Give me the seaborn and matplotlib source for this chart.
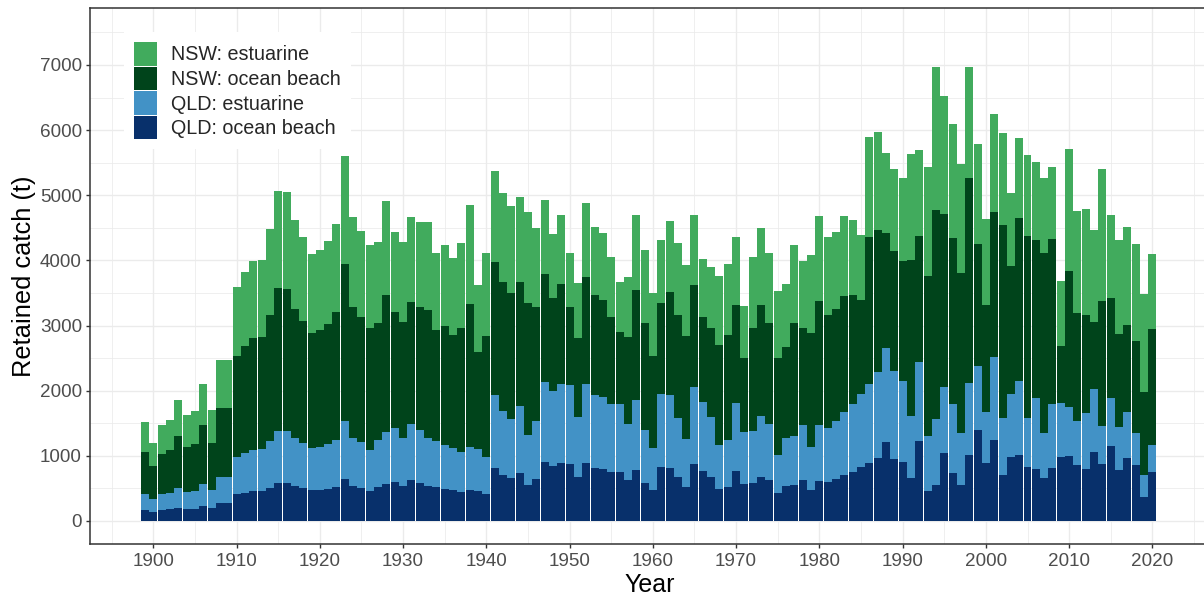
import numpy as np
import pandas as pd
import matplotlib
matplotlib.use("Agg")
import matplotlib.pyplot as plt
from matplotlib.ticker import MultipleLocator
import seaborn as sns

# ---- data: retained catch (t) by state and fishery sector, 1899-2020 ----
years = list(range(1899, 2021))

nsw_estuarine = [
    461, 347, 445, 461, 553, 492, 507, 629, 506, 737,
    737, 1060, 1136, 1182, 1182, 1320, 1490, 1489, 1367, 1290,
    1212, 1228, 1274, 1351, 1658, 1382, 1321, 1275, 1244, 1443,
    1228, 1228, 1305, 1305, 1351, 1182, 1244, 1182, 1305, 1520,
    1029, 1275, 1397, 1366, 1336, 1305, 1397, 1213, 1137, 983,
    1059, 829, 844, 1137, 1044, 1029, 922, 768, 921, 1151,
    1121, 968, 967, 1090, 1105, 1091, 1074, 891, 937, 1060,
    1090, 1045, 798, 1091, 1183, 1075, 1028, 967, 1198, 1029,
    1197, 1305, 1198, 1182, 1228, 1152, 998, 1535, 1505, 1228,
    1259, 1274, 1628, 1320, 1673, 2196, 1811, 1751, 1673, 1705,
    1535, 1321, 1505, 1412, 1121, 1229, 1244, 1197, 1151, 1105,
    998, 1873, 1566, 1627, 1413, 2027, 1274, 1444, 1505, 1494,
    1504, 1151,
]
nsw_ocean_beach = [
    644, 507, 614, 660, 798, 691, 721, 906, 722, 1059,
    1059, 1550, 1643, 1720, 1720, 1935, 2195, 2180, 1981, 1873,
    1766, 1797, 1843, 1965, 2411, 2012, 1919, 1873, 1796, 2103,
    1781, 1782, 1874, 1889, 1966, 1705, 1827, 1735, 1904, 2196,
    1490, 1857, 2042, 1981, 1935, 1904, 2027, 1751, 1658, 1428,
    1536, 1198, 1213, 1643, 1535, 1489, 1336, 1106, 1336, 1689,
    1643, 1412, 1397, 1581, 1582, 1581, 1567, 1305, 1366, 1535,
    1612, 1504, 1136, 1581, 1704, 1551, 1490, 1398, 1735, 1489,
    1751, 1904, 1735, 1720, 1781, 1674, 1443, 2258, 2180, 1766,
    1843, 1842, 2395, 1935, 2457, 3209, 2657, 2549, 2457, 3147,
    1873, 1642, 2226, 2964, 1965, 2502, 2795, 2426, 2764, 2534,
    875, 2089, 1659, 1505, 1028, 1919, 1535, 1428, 1335, 1413,
    1275, 1781,
]
qld_estuarine = [
    246, 200, 246, 246, 307, 261, 277, 338, 276, 400,
    400, 568, 614, 629, 644, 721, 799, 799, 737, 691,
    645, 660, 691, 722, 890, 737, 706, 629, 722, 799,
    829, 737, 859, 814, 737, 706, 676, 645, 614, 660,
    644, 568, 1121, 983, 906, 1029, 767, 890, 1228, 1152,
    1212, 1213, 921, 1212, 1121, 1106, 1044, 1044, 859, 1075,
    814, 645, 1121, 1121, 905, 737, 1182, 1059, 921, 676,
    722, 1044, 799, 799, 936, 859, 583, 737, 752, 844,
    660, 860, 829, 890, 968, 1044, 1121, 1212, 1321, 1443,
    1351, 1244, 952, 1213, 844, 1013, 1013, 1059, 798, 1106,
    983, 783, 1274, 875, 967, 1137, 752, 1091, 691, 982,
    829, 752, 675, 860, 968, 584, 737, 660, 707, 491,
    338, 415,
]
qld_ocean_beach = [
    169, 138, 169, 184, 200, 184, 184, 230, 200, 276,
    276, 415, 430, 461, 461, 507, 583, 583, 537, 507,
    476, 476, 491, 522, 645, 537, 507, 461, 522, 568,
    599, 537, 630, 583, 537, 522, 491, 476, 445, 476,
    461, 415, 814, 706, 660, 737, 553, 645, 906, 844,
    891, 875, 676, 891, 814, 798, 752, 752, 630, 783,
    583, 476, 829, 814, 676, 522, 875, 768, 676, 491,
    522, 768, 568, 583, 676, 630, 430, 537, 553, 630,
    476, 614, 599, 645, 706, 752, 829, 891, 967, 1213,
    952, 906, 660, 1228, 461, 553, 1044, 737, 553, 1013,
    1397, 891, 1244, 706, 983, 1013, 829, 798, 660, 814,
    983, 998, 860, 798, 1059, 875, 1152, 783, 967, 860,
    368, 752,
]

series_names = ["NSW: estuarine", "NSW: ocean beach", "QLD: estuarine", "QLD: ocean beach"]
series_colors = ["#41AB5D", "#00441B", "#4292C6", "#08306B"]

y_ticks = [0, 1000, 2000, 3000, 4000, 5000, 6000, 7000]
x_ticks = list(range(1900, 2021, 10))

# long-format table for seaborn
df = pd.concat(
    [
        pd.DataFrame({"year": years, "series": name, "catch": vals})
        for name, vals in zip(
            series_names,
            [nsw_estuarine, nsw_ocean_beach, qld_estuarine, qld_ocean_beach],
        )
    ],
    ignore_index=True,
)

# ---- styling ----
sns.set_theme(style="white")
plt.rcParams["font.family"] = ["Liberation Sans", "DejaVu Sans"]

fig = plt.figure(figsize=(12.04, 5.99), dpi=100)
W, H = 1204, 599
ax_left, ax_right, ax_top, ax_bottom = 90.3, 1209.0, 8.3, 544.3
ax = fig.add_axes([
    ax_left / W,
    (H - ax_bottom) / H,
    (ax_right - ax_left) / W,
    (ax_bottom - ax_top) / H,
])
ax.set_facecolor("white")

# stacked bars: first hue level ends up on top of the stack
sns.histplot(
    data=df,
    x="year",
    weights="catch",
    hue="series",
    hue_order=series_names,
    palette=dict(zip(series_names, series_colors)),
    multiple="stack",
    discrete=True,
    shrink=0.96,
    alpha=1,
    linewidth=0,
    edgecolor="none",
    ax=ax,
    legend=True,
    zorder=2,
)

ax.set_xlim(1892.43, 2026.8)
ax.set_ylim(-358, 7870)

ax.set_xticks(x_ticks)
ax.set_yticks(y_ticks)
ax.xaxis.set_minor_locator(MultipleLocator(5))
ax.yaxis.set_minor_locator(MultipleLocator(500))

ax.set_axisbelow(True)
ax.grid(True, which="major", color="#EBEBEB", linewidth=1.0)
ax.grid(True, which="minor", color="#EBEBEB", linewidth=0.55)

for side in ["left", "bottom", "top", "right"]:
    ax.spines[side].set_visible(True)
    ax.spines[side].set_color("#333333")
    ax.spines[side].set_linewidth(1.1)

ax.tick_params(axis="both", which="major", direction="out", length=3.2,
               width=1.0, color="#333333", labelsize=13.6,
               labelcolor="#4D4D4D", pad=2.8)
ax.tick_params(axis="both", which="minor", length=0)
ax.tick_params(axis="x", bottom=True, left=False)
ax.tick_params(axis="y", left=True)

ax.set_xlabel("Year", fontsize=18, color="black", labelpad=2.5)
ax.set_ylabel("Retained catch (t)", fontsize=18.3, color="black", labelpad=2.5)

sns.move_legend(
    ax,
    "upper left",
    bbox_to_anchor=(0.0304, 0.9552),
    title=None,
    frameon=True,
    fancybox=False,
    framealpha=1,
    facecolor="white",
    edgecolor="none",
    fontsize=14.2,
    handlelength=1.18,
    handleheight=1.45,
    labelspacing=0.06,
    handletextpad=0.7,
    borderpad=0.5,
    borderaxespad=0,
)

fig.savefig("out.png", dpi=100, facecolor="white")
